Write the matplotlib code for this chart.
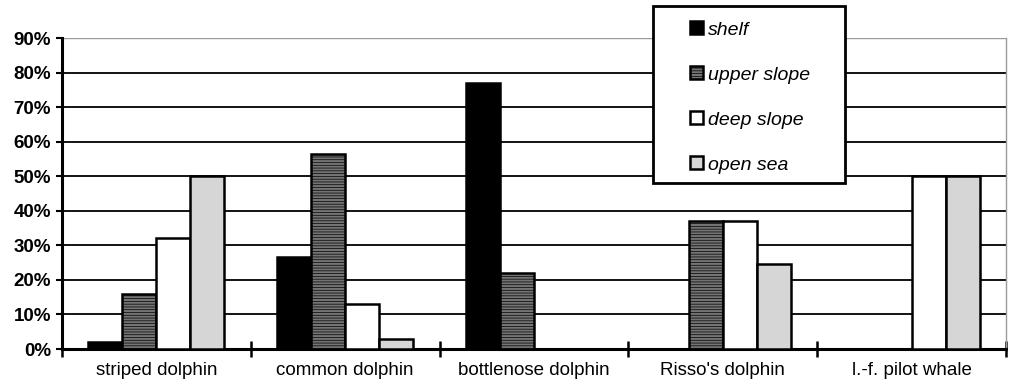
import numpy as np
import matplotlib.pyplot as plt
from matplotlib.patches import Rectangle
from matplotlib.ticker import FixedLocator, PercentFormatter

# data (percent of sightings)
species = ['striped dolphin', 'common dolphin', 'bottlenose dolphin',
           "Risso's dolphin", 'l.-f. pilot whale']
habitats = ['shelf', 'upper slope', 'deep slope', 'open sea']
shelf = [2, 26.5, 77, 0, 0]
upper_slope = [16, 56.5, 22, 37, 0]
deep_slope = [32, 13, 0, 37, 50]
open_sea = [50, 3, 0, 24.5, 50]

colors = ['#000000', '#747474', '#ffffff', '#d6d6d6']
hatches = [None, '------', None, None]

plt.rcParams['hatch.color'] = '#555555'
plt.rcParams['hatch.linewidth'] = 0.5

fig = plt.figure(figsize=(10.1, 3.91), dpi=100)
ax = fig.add_axes([0.0614, 0.1074, 0.9347, 0.7954])

x = np.arange(len(species))
w = 0.18
series = [shelf, upper_slope, deep_slope, open_sea]
for i, vals in enumerate(series):
    ax.bar(x + (i - 1.5) * w, vals, w, color=colors[i], edgecolor='black',
           linewidth=1.8, hatch=hatches[i], label=habitats[i], zorder=3)

ax.set_xlim(-0.5, len(species) - 0.5)
ax.set_ylim(0, 90)
ax.yaxis.set_major_locator(FixedLocator(np.arange(0, 91, 10)))
ax.yaxis.set_major_formatter(PercentFormatter(decimals=0))
for v in range(10, 90, 10):
    ax.axhline(v, color='black', lw=1.3, zorder=1)
ax.axhline(90, color='#9a9a9a', lw=1.0, zorder=1)

ax.set_xticks(x)
ax.set_xticklabels(species, family=['Liberation Sans Narrow', 'Liberation Sans'],
                   fontsize=13.5)
ax.tick_params(axis='x', length=0, pad=9)
ax.set_xticks(np.arange(-0.5, len(species)), minor=True)
ax.tick_params(axis='x', which='minor', direction='inout', length=12,
               width=1.8, color='black')
ax.tick_params(axis='y', direction='out', length=4, width=1.5, pad=4)
for t in ax.get_yticklabels():
    t.set_fontweight('bold')
    t.set_family('Liberation Sans')
    t.set_fontsize(13.5)

ax.spines['top'].set_visible(False)
ax.spines['right'].set_color('#9a9a9a')
ax.spines['right'].set_linewidth(1.0)
ax.spines['left'].set_linewidth(2.2)
ax.spines['bottom'].set_linewidth(2.2)

# legend box
fig.add_artist(Rectangle((0.6465, 0.532), 0.19, 0.4527, transform=fig.transFigure,
                         facecolor='white', edgecolor='black', lw=2, zorder=5))
leg = fig.legend(loc='upper left', bbox_to_anchor=(0.674, 0.97), frameon=False,
                 prop={'family': 'Liberation Sans', 'style': 'italic', 'size': 14},
                 handlelength=0.65, handleheight=0.65, handletextpad=0.25,
                 labelspacing=1.42, borderpad=0)
leg.set_zorder(6)

fig.savefig('out.png', dpi=100)
